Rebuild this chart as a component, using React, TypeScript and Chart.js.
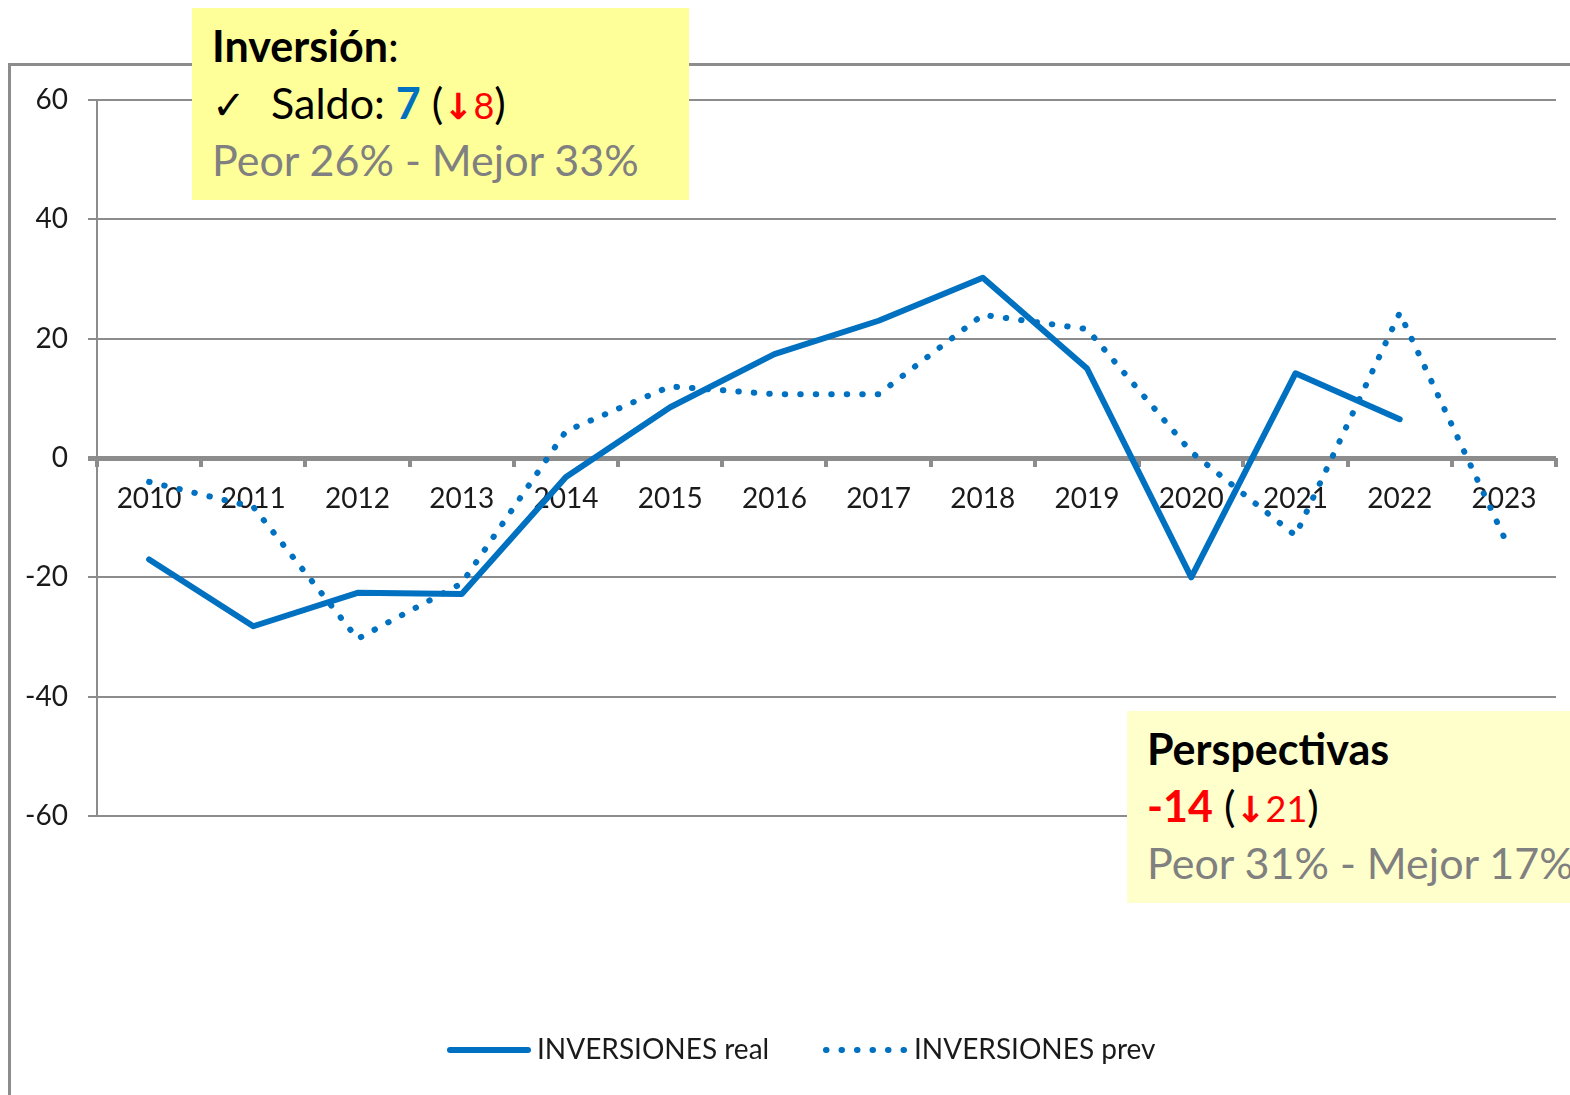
import React, { useEffect, useRef } from "react";
import { Chart, registerables } from "chart.js";

Chart.register(...registerables);

const categories = ["2010", "2011", "2012", "2013", "2014", "2015", "2016", "2017", "2018", "2019", "2020", "2021", "2022", "2023"];
const realValues: (number | null)[] = [-17, -28.2, -22.6, -22.8, -3.2, 8.5, 17.4, 23, 30.2, 15, -20, 14.2, 6.5, null];
const prevValues: (number | null)[] = [-4, -8.2, -30.3, -21, 4.5, 12, 10.7, 10.7, 24, 21.6, 1, -13, 24.3, -13.2];
const seriesLabels = ["INVERSIONES real", "INVERSIONES prev"];
const yMin = -60;
const yMax = 60;
const yStep = 20;

const BLUE = "#0070C0";
const GRID = "#8c8c8c";
const FONT = "Lato, 'Noto Sans', sans-serif";

const customPlugin = {
  id: "custom",
  beforeDraw(chart: any) {
    const ctx = chart.ctx;
    ctx.save();
    ctx.fillStyle = "#fff";
    ctx.fillRect(0, 0, chart.width, chart.height);
    ctx.strokeStyle = GRID;
    ctx.lineWidth = 3;
    ctx.beginPath();
    ctx.moveTo(9.5, chart.height);
    ctx.lineTo(9.5, 64.5);
    ctx.lineTo(chart.width, 64.5);
    ctx.stroke();
    ctx.restore();
  },
  beforeDatasetsDraw(chart: any) {
    const ctx = chart.ctx;
    const x = chart.scales.x;
    const y = chart.scales.y;
    const y0 = y.getPixelForValue(0);
    const n = chart.data.labels.length;
    const half = (x.getPixelForValue(1) - x.getPixelForValue(0)) / 2;
    ctx.save();
    ctx.strokeStyle = GRID;
    ctx.lineWidth = 4;
    ctx.beginPath();
    for (let i = 0; i <= n; i++) {
      const px = Math.round(x.getPixelForValue(0) - half + i * 2 * half);
      ctx.moveTo(px, y0);
      ctx.lineTo(px, y0 + 9);
    }
    ctx.stroke();
    ctx.fillStyle = "#1a1a1a";
    ctx.font = `28px ${FONT}`;
    ctx.textAlign = "center";
    ctx.textBaseline = "middle";
    for (let i = 0; i < n; i++) {
      ctx.fillText(chart.data.labels[i], x.getPixelForValue(i), y0 + 41);
    }
    ctx.restore();
  },
  afterDraw(chart: any) {
    const ctx = chart.ctx;
    const ly = 1050;
    ctx.save();
    ctx.strokeStyle = BLUE;
    ctx.lineWidth = 6;
    ctx.lineCap = "round";
    ctx.beginPath();
    ctx.moveTo(450, ly);
    ctx.lineTo(528, ly);
    ctx.stroke();
    ctx.setLineDash([0.5, 15]);
    ctx.beginPath();
    ctx.moveTo(826, ly);
    ctx.lineTo(904, ly);
    ctx.stroke();
    ctx.setLineDash([]);
    ctx.fillStyle = "#1a1a1a";
    ctx.font = `28px ${FONT}`;
    ctx.textAlign = "left";
    ctx.textBaseline = "middle";
    ctx.fillText(chart.data.datasets[0].label, 537, ly);
    ctx.fillText(chart.data.datasets[1].label, 914, ly);
    ctx.restore();
  },
};

export default function App() {
  const canvasRef = useRef<HTMLCanvasElement | null>(null);

  useEffect(() => {
    document.body.style.margin = "0";
    document.body.style.overflow = "hidden";
    const canvas = canvasRef.current;
    if (!canvas) return;
    const chart = new Chart(canvas, {
      type: "line",
      data: {
        labels: categories,
        datasets: [
          {
            label: seriesLabels[0],
            data: realValues,
            borderColor: BLUE,
            backgroundColor: BLUE,
            borderWidth: 6,
            pointRadius: 0,
            tension: 0,
            borderJoinStyle: "round",
            borderCapStyle: "round",
            spanGaps: false,
          },
          {
            label: seriesLabels[1],
            data: prevValues,
            borderColor: BLUE,
            backgroundColor: BLUE,
            borderWidth: 6,
            pointRadius: 0,
            tension: 0,
            borderDash: [0.5, 15],
            borderCapStyle: "round",
          },
        ],
      },
      options: {
        responsive: false,
        animation: false,
        devicePixelRatio: 1,
        layout: { padding: { left: 0, right: 14, top: 100, bottom: 279 } },
        plugins: { legend: { display: false }, tooltip: { enabled: false } },
        scales: {
          x: { type: "category", offset: true, display: false },
          y: {
            min: yMin,
            max: yMax,
            ticks: {
              stepSize: yStep,
              padding: 20,
              color: "#1a1a1a",
              font: { family: FONT, size: 28 },
            },
            grid: {
              color: GRID,
              lineWidth: (c: any) => (c.tick && c.tick.value === 0 ? 5 : 2),
              tickLength: 9,
              drawTicks: true,
            },
            border: { display: true, color: GRID, width: 2 },
            afterFit: (scale: any) => {
              scale.width = 97;
            },
          },
        },
      },
      plugins: [customPlugin],
    });
    return () => chart.destroy();
  }, []);

  const boxText: React.CSSProperties = {
    fontFamily: FONT,
    fontSize: 43,
    lineHeight: "57px",
    whiteSpace: "nowrap",
  };
  const arrow: React.CSSProperties = { fontFamily: "'DejaVu Sans', sans-serif", fontWeight: 900, fontSize: 36 };

  return (
    <div style={{ position: "absolute", left: 0, top: 0, width: 1570, height: 1095, overflow: "hidden", background: "#fff" }}>
      <canvas ref={canvasRef} width={1570} height={1095} style={{ display: "block" }} />
      <div
        style={{
          position: "absolute",
          left: 192,
          top: 8,
          width: 497,
          height: 192,
          background: "#FFFF99",
          boxSizing: "border-box",
          paddingLeft: 20,
          paddingTop: 9,
          ...boxText,
        }}
      >
        <div style={{ color: "#000", height: 57 }}>
          <b>Inversión</b>:
        </div>
        <div style={{ color: "#000", height: 57 }}>
          <span style={{ display: "inline-block", width: 59, fontFamily: "'DejaVu Sans', sans-serif", fontSize: 40 }}>✓</span>
          Saldo: <b style={{ color: BLUE }}>7</b> (
          <span style={{ color: "#FF0000", fontSize: 36 }}>
            <b style={arrow}>↓</b>8
          </span>
          )
        </div>
        <div style={{ color: "#808080" }}>Peor 26% - Mejor 33%</div>
      </div>
      <div
        style={{
          position: "absolute",
          left: 1127,
          top: 711,
          width: 443,
          height: 192,
          background: "#FFFFCC",
          boxSizing: "border-box",
          paddingLeft: 20,
          paddingTop: 9,
          ...boxText,
        }}
      >
        <div style={{ color: "#000", height: 57 }}>
          <b>Perspectivas</b>
        </div>
        <div style={{ color: "#000", height: 57 }}>
          <b style={{ color: "#FF0000" }}>-14</b> (
          <span style={{ color: "#FF0000", fontSize: 36 }}>
            <b style={arrow}>↓</b>21
          </span>
          )
        </div>
        <div style={{ color: "#808080" }}>Peor 31% - Mejor 17%</div>
      </div>
    </div>
  );
}
